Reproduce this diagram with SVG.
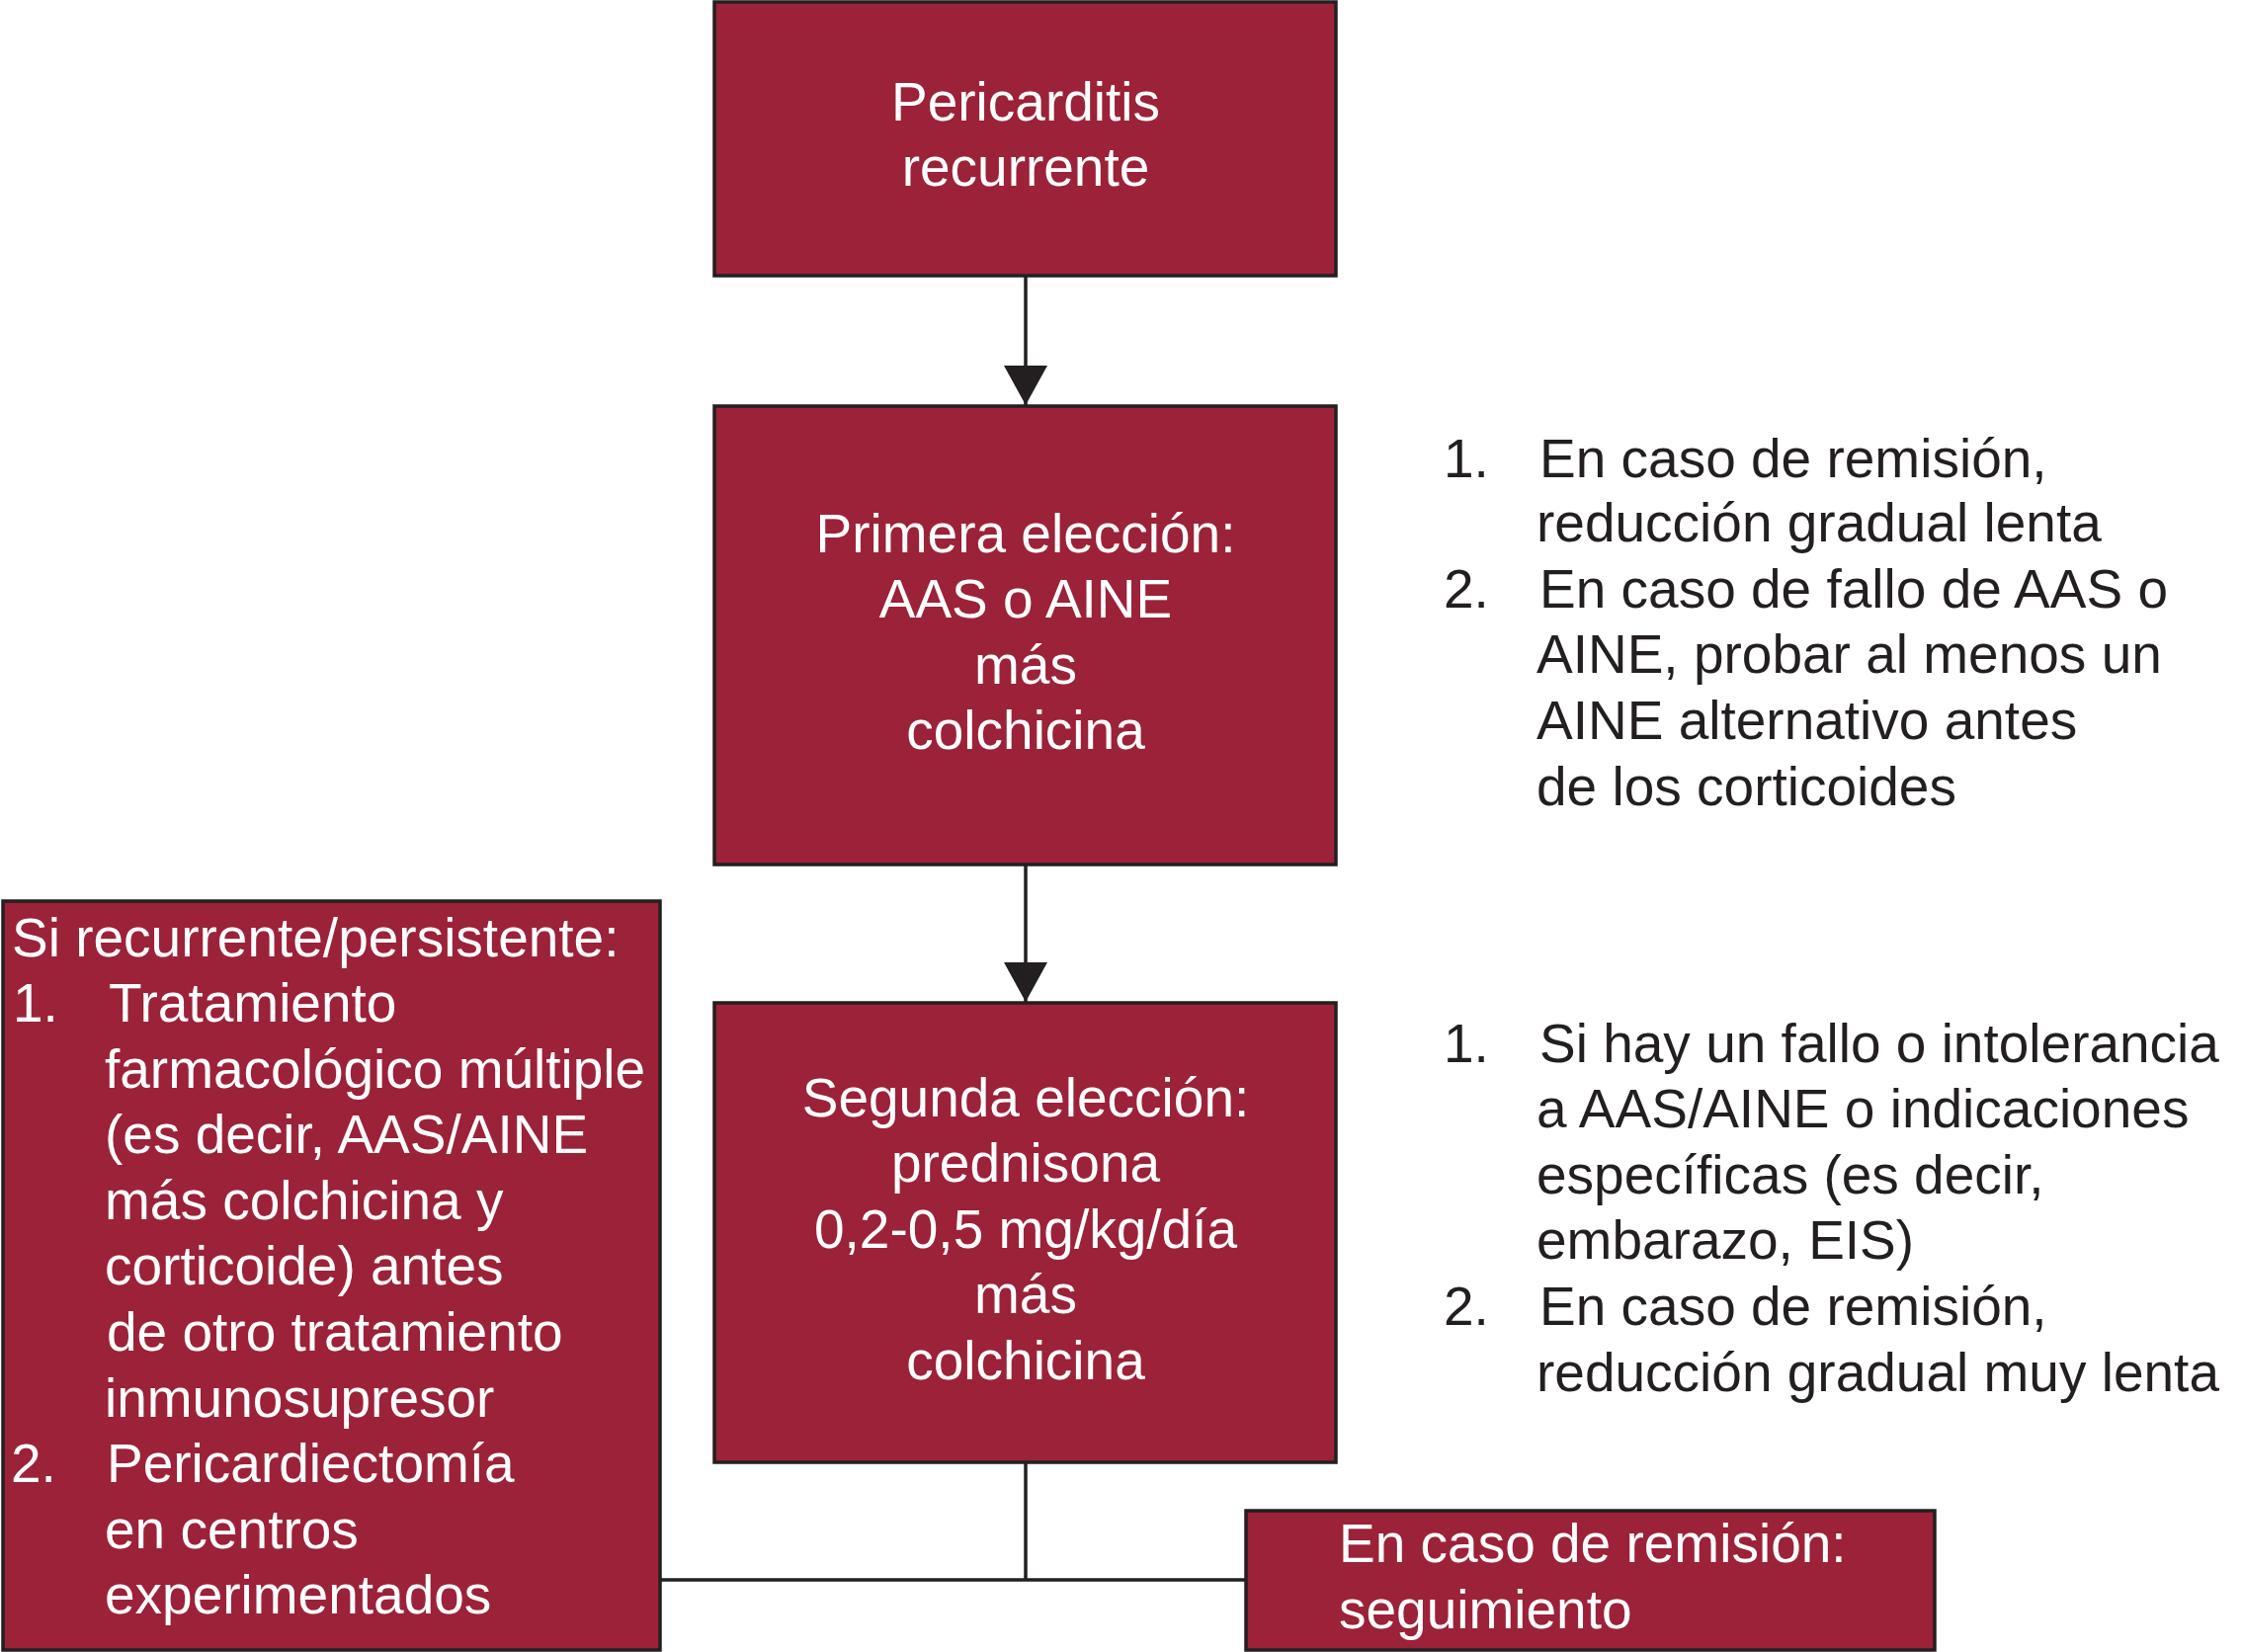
<svg xmlns="http://www.w3.org/2000/svg" width="2268" height="1672" viewBox="0 0 2268 1672">
<defs>
<style>
.box{fill:#9b2238;stroke:#231f20;stroke-width:3.5}
.wt{fill:#ffffff;font-family:"Liberation Sans",Arial,sans-serif;font-size:55px}
.ct{text-anchor:middle}
.bt{fill:#231f20;font-family:"Liberation Sans",Arial,sans-serif;font-size:55px}
.conn{fill:none;stroke:#231f20;stroke-width:3.5}
</style>
<marker id="arr" viewBox="0 0 40 44" refX="40" refY="22" markerWidth="40" markerHeight="44" markerUnits="userSpaceOnUse" orient="auto">
<path d="M0,0 L40,22 L0,44 z" fill="#231f20"/>
</marker>
</defs>
<rect width="2268" height="1672" fill="#ffffff"/>
<g id="connectors">
<line class="conn" x1="1038" y1="280" x2="1038" y2="410" marker-end="url(#arr)"/>
<line class="conn" x1="1038" y1="876" x2="1038" y2="1014" marker-end="url(#arr)"/>
<polyline class="conn" points="1038,1480 1038,1599"/>
<line class="conn" x1="668" y1="1599" x2="1261" y2="1599"/>
</g>
<g id="n1">
<rect class="box" x="723" y="2" width="629" height="277"/>
<text class="wt ct" x="1038" y="122">Pericarditis</text>
<text class="wt ct" x="1038" y="188">recurrente</text>
</g>
<g id="n2">
<rect class="box" x="723" y="411" width="629" height="464"/>
<text class="wt ct" x="1038" y="559">Primera elección:</text>
<text class="wt ct" x="1038" y="625">AAS o AINE</text>
<text class="wt ct" x="1038" y="692">más</text>
<text class="wt ct" x="1038" y="758">colchicina</text>
</g>
<g id="n3">
<rect class="box" x="723" y="1015" width="629" height="465"/>
<text class="wt ct" x="1038" y="1130">Segunda elección:</text>
<text class="wt ct" x="1038" y="1196">prednisona</text>
<text class="wt ct" x="1038" y="1263">0,2-0,5 mg/kg/día</text>
<text class="wt ct" x="1038" y="1329">más</text>
<text class="wt ct" x="1038" y="1396">colchicina</text>
</g>
<g id="n4">
<rect class="box" x="3" y="912" width="665" height="758"/>
<text class="wt" x="12" y="968">Si recurrente/persistente:</text>
<text class="wt" x="13" y="1034">1.</text>
<text class="wt" x="110" y="1034">Tratamiento</text>
<text class="wt" x="106" y="1101">farmacológico múltiple</text>
<text class="wt" x="106" y="1167">(es decir, AAS/AINE</text>
<text class="wt" x="106" y="1234">más colchicina y</text>
<text class="wt" x="106" y="1300">corticoide) antes</text>
<text class="wt" x="108" y="1367">de otro tratamiento</text>
<text class="wt" x="106" y="1434">inmunosupresor</text>
<text class="wt" x="11" y="1500">2.</text>
<text class="wt" x="108" y="1500">Pericardiectomía</text>
<text class="wt" x="106" y="1567">en centros</text>
<text class="wt" x="106" y="1633">experimentados</text>
</g>
<g id="n5">
<rect class="box" x="1261" y="1529" width="697" height="141"/>
<text class="wt" x="1355" y="1581">En caso de remisión:</text>
<text class="wt" x="1355" y="1648">seguimiento</text>
</g>
<g id="note1">
<text class="bt" x="1461" y="483">1.</text>
<text class="bt" x="1558" y="483">En caso de remisión,</text>
<text class="bt" x="1555" y="548">reducción gradual lenta</text>
<text class="bt" x="1461" y="615">2.</text>
<text class="bt" x="1558" y="615">En caso de fallo de AAS o</text>
<text class="bt" x="1555" y="681">AINE, probar al menos un</text>
<text class="bt" x="1555" y="748">AINE alternativo antes</text>
<text class="bt" x="1555" y="815">de los corticoides</text>
</g>
<g id="note2">
<text class="bt" x="1461" y="1075">1.</text>
<text class="bt" x="1558" y="1075">Si hay un fallo o intolerancia</text>
<text class="bt" x="1555" y="1141">a AAS/AINE o indicaciones</text>
<text class="bt" x="1555" y="1208">específicas (es decir,</text>
<text class="bt" x="1555" y="1274">embarazo, EIS)</text>
<text class="bt" x="1461" y="1341">2.</text>
<text class="bt" x="1558" y="1341">En caso de remisión,</text>
<text class="bt" x="1555" y="1408">reducción gradual muy lenta</text>
</g>
</svg>
